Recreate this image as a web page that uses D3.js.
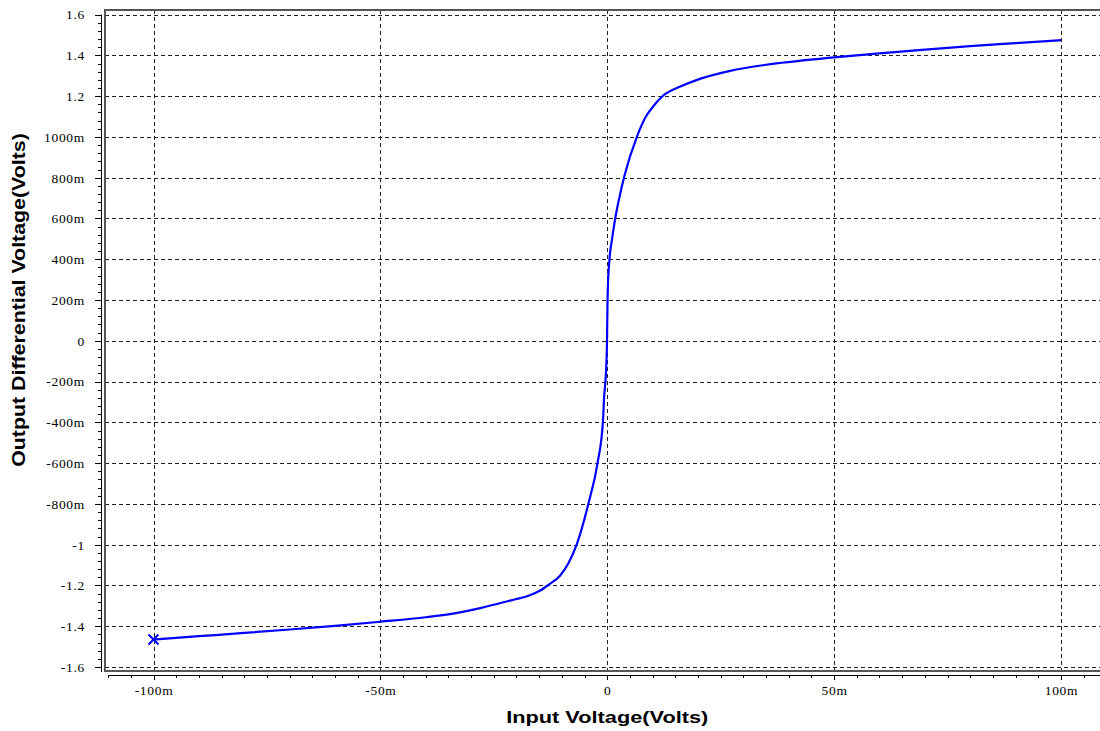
<!DOCTYPE html>
<html>
<head>
<meta charset="utf-8">
<script src="https://cdn.jsdelivr.net/npm/d3@7"></script>
<style>
  html, body { margin: 0; padding: 0; background: #fff; }
  svg { display: block; }
  .tick-label { font-family: "Liberation Serif", "Times New Roman", serif; font-size: 13.5px; letter-spacing: 0.7px; fill: #000; }
  .axis-title { font-family: "Liberation Sans", Arial, sans-serif; font-weight: bold; fill: #000; }
</style>
</head>
<body>
<svg id="chart" width="1100" height="731"></svg>
<script>
// DC transfer sweep: input voltage (V) vs. output differential voltage (V)
const inputVoltage = [
  -0.100, -0.090, -0.080, -0.070, -0.060, -0.050, -0.040, -0.034, -0.028, -0.02065,
  -0.0175, -0.01477, -0.01294, -0.01036, -0.00853, -0.00668, -0.00412, -0.00214, -0.00095, -0.00070,
  -0.00029, -0.00005, 0.00007, 0.00015, 0.00051, 0.00103, 0.00176, 0.00255, 0.00375, 0.00655,
  0.00853, 0.0102, 0.01228, 0.0161, 0.0198, 0.0271, 0.035, 0.050, 0.060, 0.070,
  0.080, 0.090, 0.100
];
const outputDiff = [
  -1.465, -1.449, -1.433, -1.416, -1.398, -1.378, -1.356, -1.338, -1.311, -1.270,
  -1.252, -1.225, -1.197, -1.151, -1.090, -0.996, -0.796, -0.600, -0.396, -0.280,
  -0.158, 0.000, 0.200, 0.266, 0.405, 0.495, 0.600, 0.690, 0.806, 1.002,
  1.100, 1.152, 1.202, 1.247, 1.280, 1.324, 1.354, 1.390, 1.410, 1.428,
  1.445, 1.460, 1.475
];

// Axis ticks and their labels
const xTickValues = [-0.1, -0.05, 0, 0.05, 0.1];
const xTickLabels = ["-100m", "-50m", "0", "50m", "100m"];
const yTickValues = [1.6, 1.4, 1.2, 1.0, 0.8, 0.6, 0.4, 0.2, 0, -0.2, -0.4, -0.6, -0.8, -1.0, -1.2, -1.4, -1.6];
const yTickLabels = ["1.6", "1.4", "1.2", "1000m", "800m", "600m", "400m", "200m", "0",
                     "-200m", "-400m", "-600m", "-800m", "-1", "-1.2", "-1.4", "-1.6"];

const xTitle = "Input Voltage(Volts)";
const yTitle = "Output Differential Voltage(Volts)";

// Plot frame
const frame = { left: 105, right: 1100, top: 10, bottom: 671 };

const svg = d3.select("#chart");

const x = d3.scaleLinear().domain([-0.11069, 0.10860]).range([frame.left, frame.right]);
const y = d3.scaleLinear().domain([-1.6196, 1.6226]).range([frame.bottom, frame.top]);

const yAxisX = 101;
const xAxisY = 675;

// Grid
const grid = svg.append("g").attr("class", "grid")
  .attr("stroke", "#222").attr("stroke-width", 1).attr("stroke-dasharray", "4,3")
  .attr("shape-rendering", "crispEdges");

grid.selectAll("line.h").data(yTickValues).join("line")
  .attr("class", "h")
  .attr("x1", frame.left).attr("x2", frame.right)
  .attr("y1", d => Math.round(y(d)) + 0.5).attr("y2", d => Math.round(y(d)) + 0.5);

grid.selectAll("line.v").data(xTickValues).join("line")
  .attr("class", "v")
  .attr("y1", frame.top).attr("y2", frame.bottom)
  .attr("x1", d => Math.round(x(d)) + 0.5).attr("x2", d => Math.round(x(d)) + 0.5);

// Frame lines (left, top, bottom)
const frameG = svg.append("g").attr("stroke", "#555").attr("stroke-width", 2)
  .attr("shape-rendering", "crispEdges");
frameG.append("line").attr("x1", frame.left).attr("x2", frame.left)
  .attr("y1", frame.top - 1).attr("y2", frame.bottom + 1);
frameG.append("line").attr("x1", frame.left).attr("x2", frame.right)
  .attr("y1", frame.top).attr("y2", frame.top);
frameG.append("line").attr("x1", frame.left).attr("x2", frame.right)
  .attr("y1", frame.bottom).attr("y2", frame.bottom);

// Y axis with major and minor ticks
const yMinor = d3.range(-1.6, 1.6001, 0.04);
const yAxisG = svg.append("g").attr("transform", `translate(${yAxisX},0)`);
yAxisG.call(d3.axisLeft(y).tickValues(yMinor).tickSize(3).tickFormat(""))
  .call(g => g.select(".domain").remove());
yAxisG.append("line").attr("x1", 0.5).attr("x2", 0.5)
  .attr("y1", y(1.6)).attr("y2", frame.bottom + 1).attr("stroke", "#000");
const yMajorG = svg.append("g").attr("transform", `translate(${yAxisX},0)`);
yMajorG.call(d3.axisLeft(y).tickValues(yTickValues).tickSize(6).tickPadding(10)
    .tickFormat((d, i) => yTickLabels[i]))
  .call(g => g.select(".domain").remove());
yMajorG.selectAll("text").attr("class", "tick-label");
yMajorG.attr("font-size", null).attr("font-family", null);

// X axis with major and minor ticks
const xMinor = d3.range(-0.110, 0.10801, 0.005);
const xAxisG = svg.append("g").attr("transform", `translate(0,${xAxisY})`);
xAxisG.call(d3.axisBottom(x).tickValues(xMinor).tickSize(3).tickFormat(""))
  .call(g => g.select(".domain").remove());
xAxisG.append("line").attr("x1", x(-0.110)).attr("x2", frame.right)
  .attr("y1", 0.5).attr("y2", 0.5).attr("stroke", "#000");
const xMajorG = svg.append("g").attr("transform", `translate(0,${xAxisY})`);
xMajorG.call(d3.axisBottom(x).tickValues(xTickValues).tickSize(5).tickPadding(5)
    .tickFormat((d, i) => xTickLabels[i]))
  .call(g => g.select(".domain").remove());
xMajorG.selectAll("text").attr("class", "tick-label");
xMajorG.attr("font-size", null).attr("font-family", null);
svg.selectAll(".tick line").attr("stroke", "#000").attr("shape-rendering", "crispEdges");

// Axis titles (both drawn slightly widened along their length)
svg.append("text").attr("class", "axis-title")
  .attr("font-size", 17)
  .attr("transform", `translate(${x(0)},723) scale(1.28,1)`)
  .attr("text-anchor", "middle").text(xTitle);
svg.append("text").attr("class", "axis-title")
  .attr("font-size", 17.5)
  .attr("transform", `translate(25,300) rotate(-90) scale(1.22,1)`)
  .attr("text-anchor", "middle").text(yTitle);

// Transfer curve
const pts = inputVoltage.map((v, i) => [v, outputDiff[i]]);
const line = d3.line().x(d => x(d[0])).y(d => y(d[1])).curve(d3.curveMonotoneX);
svg.append("path").datum(pts)
  .attr("d", line)
  .attr("fill", "none").attr("stroke", "#0000ff").attr("stroke-width", 2.2);

// Start-point marker
const start = pts[0];
const m = 5;
svg.append("path")
  .attr("d", `M${x(start[0]) - m},${y(start[1]) - m}L${x(start[0]) + m},${y(start[1]) + m}` +
             `M${x(start[0]) - m},${y(start[1]) + m}L${x(start[0]) + m},${y(start[1]) - m}`)
  .attr("stroke", "#0000ff").attr("stroke-width", 2).attr("fill", "none");
</script>
</body>
</html>
